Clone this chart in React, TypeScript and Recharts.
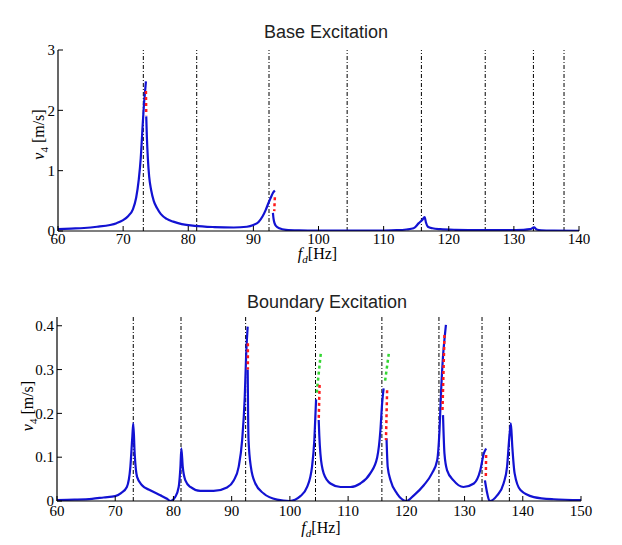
import React from 'react';
import { ComposedChart, Line, XAxis, YAxis, ReferenceLine, Label } from 'recharts';

// Mode frequencies (vertical dash-dot lines) [Hz]
const modeFreqs = [73.1, 81.3, 92.4, 104.4, 115.8, 125.6, 133.0, 137.7];

// Tick labels
const baseTicksX = [60, 70, 80, 90, 100, 110, 120, 130, 140];
const baseTicksY = [0, 1, 2, 3];
const bndTicksX = [60, 70, 80, 90, 100, 110, 120, 130, 140, 150];
const bndTicksY = [0, 0.1, 0.2, 0.3, 0.4];

// ---- Base excitation (top) ----
const baseF1 = [60, 62, 64, 66, 68, 69, 70, 70.8, 71.5, 72.0, 72.4, 72.7, 73.0, 73.2, 73.4, 73.5];
const baseV1 = [0.03, 0.04, 0.05, 0.07, 0.1, 0.13, 0.18, 0.25, 0.36, 0.55, 0.85, 1.2, 1.75, 2.1, 2.35, 2.48];
const baseF2 = [73.55, 73.65, 73.8, 74.0, 74.3, 74.7, 75.2, 75.8, 76.7, 77.7, 79, 81, 84, 87, 89, 90, 90.8, 91.4, 91.9, 92.3, 92.7, 93.0, 93.3];
const baseV2 = [1.9, 1.55, 1.2, 0.9, 0.68, 0.5, 0.38, 0.28, 0.2, 0.155, 0.115, 0.085, 0.065, 0.058, 0.07, 0.1, 0.15, 0.24, 0.35, 0.46, 0.56, 0.63, 0.67];
const baseF3 = [93.0, 93.1, 93.25, 93.5, 94, 95, 97, 100, 105, 110, 112, 113.5, 114.6, 115.4, 115.9, 116.3, 116.5, 116.8, 117.5, 118.7, 121, 125, 129, 131.5, 132.5, 133.1, 133.5, 134.2, 136, 140];
const baseV3 = [0.3, 0.2, 0.13, 0.08, 0.045, 0.02, 0.01, 0.006, 0.005, 0.008, 0.013, 0.025, 0.045, 0.13, 0.18, 0.23, 0.14, 0.07, 0.045, 0.03, 0.02, 0.015, 0.015, 0.02, 0.03, 0.06, 0.025, 0.012, 0.006, 0.003];
// unstable branches (red dotted)
const baseRedF1 = [73.5, 73.55];
const baseRedV1 = [2.32, 1.92];
const baseRedF2 = [93.3, 93.2];
const baseRedV2 = [0.56, 0.33];

// ---- Boundary excitation (bottom) ----
const bndF1 = [60, 63, 66, 68, 70, 71, 72.0, 72.6, 72.94, 73.1, 73.34, 73.75, 74.6, 76.0, 77.75, 78.9, 79.5, 80.3, 80.9, 81.2, 81.36, 81.6, 82.05, 82.9, 84.6, 86.9, 89.2, 90.35, 91.2, 91.8, 92.25, 92.5, 92.75];
const bndV1 = [0.002, 0.003, 0.005, 0.008, 0.011, 0.018, 0.032, 0.078, 0.147, 0.177, 0.108, 0.055, 0.036, 0.0245, 0.013, 0.005, 0.0, 0.009, 0.032, 0.078, 0.12, 0.078, 0.047, 0.032, 0.023, 0.023, 0.031, 0.047, 0.078, 0.139, 0.238, 0.337, 0.398];
const bndF2 = [92.75, 92.82, 92.9, 93.3, 94.07, 95.5, 97.8, 99.96, 101.8, 102.96, 103.8, 104.2, 104.5];
const bndV2 = [0.3, 0.2, 0.139, 0.078, 0.04, 0.017, 0.003, 0.0, 0.011, 0.032, 0.078, 0.139, 0.232];
const bndF3 = [104.95, 105.05, 105.24, 105.8, 106.96, 108.7, 110.4, 112.1, 113.8, 115.0, 115.55, 115.84, 116.1];
const bndV3 = [0.185, 0.15, 0.108, 0.063, 0.04, 0.032, 0.032, 0.04, 0.063, 0.1, 0.162, 0.223, 0.257];
const bndF4 = [116.6, 116.8, 117.3, 118.4, 120.0, 121.3, 123.0, 124.4, 125.3, 125.7, 125.98, 126.3, 126.6, 126.8];
const bndV4 = [0.143, 0.078, 0.047, 0.017, 0.0, 0.013, 0.036, 0.063, 0.093, 0.162, 0.253, 0.33, 0.376, 0.402];
const bndF5 = [126.3, 126.55, 127.0, 128.1, 129.8, 131.6, 132.7, 133.3, 133.7];
const bndV5 = [0.196, 0.108, 0.07, 0.047, 0.032, 0.04, 0.07, 0.108, 0.12];
const bndF6 = [133.5, 133.9, 134.3, 135.6, 136.7, 137.3, 137.7, 137.96, 138.2, 138.6, 139.6, 141.9, 145.3, 150];
const bndV6 = [0.047, 0.017, 0.0, 0.013, 0.04, 0.078, 0.147, 0.177, 0.124, 0.063, 0.025, 0.009, 0.004, 0.002];
// unstable branches (red dotted)
const bndRedF1 = [92.78, 92.78];
const bndRedV1 = [0.36, 0.3];
const bndRedF2 = [105.1, 104.95];
const bndRedV2 = [0.265, 0.185];
const bndRedF3 = [116.7, 116.5];
const bndRedV3 = [0.253, 0.139];
const bndRedF4 = [126.55, 126.2];
const bndRedV4 = [0.379, 0.204];
const bndRedF5 = [133.7, 133.65];
const bndRedV5 = [0.105, 0.052];
// green dotted branches
const bndGreenF1 = [105.3, 104.6];
const bndGreenV1 = [0.336, 0.246];
const bndGreenF2 = [116.98, 116.3];
const bndGreenV2 = [0.336, 0.269];

const zip = (f: number[], v: number[]) => f.map((x, i) => ({ f: x, v: v[i] }));

const SERIF = '"Liberation Serif", "Times New Roman", serif';
const SANS = '"Liberation Sans", Arial, Helvetica, sans-serif';
const BLUE = '#1212d2';
const RED = '#ff1a1a';
const GREEN = '#33d633';

const XTick = (props: any) => (
  <text
    x={props.x}
    y={props.y}
    dy="0.71em"
    textAnchor="middle"
    fontFamily={SERIF}
    fontSize={15}
    fill="#000"
  >
    {props.payload.value}
  </text>
);

const YTick = (props: any) => (
  <text
    x={props.x}
    y={props.y}
    dy="0.35em"
    textAnchor="end"
    fontFamily={SERIF}
    fontSize={15}
    fill="#000"
  >
    {props.payload.value}
  </text>
);

type Pt = { f: number; v: number };

type PanelProps = {
  top: number;
  height: number;
  margin: { top: number; right: number; bottom: number; left: number };
  yAxisWidth: number;
  xAxisHeight: number;
  xDomain: [number, number];
  xTicks: number[];
  yDomain: [number, number];
  yTicks: number[];
  blue: Pt[][];
  red: Pt[][];
  green: Pt[][];
  xTickMargin: number;
  yTickMargin: number;
  xLabelDy: number;
  xLabelDx: number;
  yLabelX: number;
  yLabelDy: number;
};

function Panel(p: PanelProps) {
  return (
    <div style={{ position: 'absolute', left: 0, top: p.top, width: 622, height: p.height }}>
      <ComposedChart width={622} height={p.height} margin={p.margin}>
        <XAxis
          xAxisId="main"
          dataKey="f"
          type="number"
          domain={p.xDomain}
          ticks={p.xTicks}
          interval={0}
          allowDataOverflow
          height={p.xAxisHeight}
          tickSize={-5}
          tickMargin={p.xTickMargin}
          axisLine={{ stroke: '#000', strokeWidth: 1.2 }}
          tickLine={{ stroke: '#000' }}
          tick={<XTick />}
        >
          <Label
            content={(lp: any) => {
              const vb = lp.viewBox || {};
              const cx = vb.x + vb.width / 2 + p.xLabelDx;
              const y = vb.y + p.xLabelDy;
              return (
                <text x={cx} y={y} textAnchor="middle" fontFamily={SERIF} fontSize={16} fill="#000">
                  <tspan fontStyle="italic">f</tspan>
                  <tspan fontStyle="italic" fontSize={11} dy={4}>d</tspan>
                  <tspan dy={-4}>[Hz]</tspan>
                </text>
              );
            }}
          />
        </XAxis>
        <XAxis
          xAxisId="topax"
          orientation="top"
          type="number"
          domain={p.xDomain}
          ticks={p.xTicks}
          interval={0}
          allowDataOverflow
          height={0}
          tickSize={-5}
          tick={false}
          axisLine={{ stroke: '#000', strokeWidth: 1.2 }}
          tickLine={{ stroke: '#000' }}
        />
        <YAxis
          yAxisId="main"
          type="number"
          domain={p.yDomain}
          ticks={p.yTicks}
          interval={0}
          allowDataOverflow
          width={p.yAxisWidth}
          tickSize={-5}
          tickMargin={p.yTickMargin}
          axisLine={{ stroke: '#000', strokeWidth: 1.2 }}
          tickLine={{ stroke: '#000' }}
          tick={<YTick />}
        >
          <Label
            content={(lp: any) => {
              const vb = lp.viewBox || {};
              const cx = vb.x + p.yLabelX;
              const cy = vb.y + vb.height / 2 + p.yLabelDy;
              return (
                <text
                  x={cx}
                  y={cy}
                  textAnchor="middle"
                  transform={`rotate(-90 ${cx} ${cy})`}
                  fontFamily={SERIF}
                  fontSize={16}
                  fill="#000"
                >
                  <tspan fontStyle="italic">v</tspan>
                  <tspan fontSize={11} dy={4}>4</tspan>
                  <tspan dy={-4}> [m/s]</tspan>
                </text>
              );
            }}
          />
        </YAxis>
        <YAxis
          yAxisId="rightax"
          orientation="right"
          type="number"
          domain={p.yDomain}
          ticks={p.yTicks}
          interval={0}
          allowDataOverflow
          width={0}
          tickSize={-5}
          tick={false}
          axisLine={{ stroke: '#000', strokeWidth: 1.2 }}
          tickLine={{ stroke: '#000' }}
        />
        {modeFreqs
          .filter((m) => m >= p.xDomain[0] && m <= p.xDomain[1])
          .map((m, i) => (
            <ReferenceLine
              key={'ref' + i}
              xAxisId="main"
              yAxisId="main"
              x={m}
              stroke="#000"
              strokeWidth={1}
              strokeDasharray="4 2 1 2"
            />
          ))}
        {p.blue.map((d, i) => (
          <Line
            key={'b' + i}
            xAxisId="main"
            yAxisId="main"
            data={d}
            dataKey="v"
            type="monotone"
            stroke={BLUE}
            strokeWidth={2.2}
            dot={false}
            activeDot={false}
            isAnimationActive={false}
          />
        ))}
        {p.green.map((d, i) => (
          <Line
            key={'g' + i}
            xAxisId="main"
            yAxisId="main"
            data={d}
            dataKey="v"
            type="linear"
            stroke={GREEN}
            strokeWidth={2.5}
            strokeDasharray="3 3"
            dot={false}
            activeDot={false}
            isAnimationActive={false}
          />
        ))}
        {p.red.map((d, i) => (
          <Line
            key={'r' + i}
            xAxisId="main"
            yAxisId="main"
            data={d}
            dataKey="v"
            type="linear"
            stroke={RED}
            strokeWidth={2.5}
            strokeDasharray="3 3"
            dot={false}
            activeDot={false}
            isAnimationActive={false}
          />
        ))}
      </ComposedChart>
    </div>
  );
}

export default function App() {
  const baseBlue = [zip(baseF1, baseV1), zip(baseF2, baseV2), zip(baseF3, baseV3)];
  const baseRed = [zip(baseRedF1, baseRedV1), zip(baseRedF2, baseRedV2)];
  const bndBlue = [
    zip(bndF1, bndV1),
    zip(bndF2, bndV2),
    zip(bndF3, bndV3),
    zip(bndF4, bndV4),
    zip(bndF5, bndV5),
    zip(bndF6, bndV6),
  ];
  const bndRed = [
    zip(bndRedF1, bndRedV1),
    zip(bndRedF2, bndRedV2),
    zip(bndRedF3, bndRedV3),
    zip(bndRedF4, bndRedV4),
    zip(bndRedF5, bndRedV5),
  ];
  const bndGreen = [zip(bndGreenF1, bndGreenV1), zip(bndGreenF2, bndGreenV2)];

  return (
    <div style={{ position: 'absolute', left: 0, top: 0, width: 622, height: 545, background: '#fff' }}>
      <Panel
        top={0}
        height={270}
        margin={{ top: 50, right: 43, bottom: 0, left: 0 }}
        yAxisWidth={58}
        xAxisHeight={39}
        xDomain={[60, 140]}
        xTicks={baseTicksX}
        yDomain={[0, 3]}
        yTicks={baseTicksY}
        blue={baseBlue}
        red={baseRed}
        green={[]}
        xTickMargin={7}
        yTickMargin={8}
        xLabelDy={28}
        xLabelDx={-1}
        yLabelX={44}
        yLabelDy={-6}
      />
      <Panel
        top={270}
        height={275}
        margin={{ top: 47, right: 41, bottom: 0, left: 0 }}
        yAxisWidth={57}
        xAxisHeight={44}
        xDomain={[60, 150]}
        xTicks={bndTicksX}
        yDomain={[0, 0.42]}
        yTicks={bndTicksY}
        blue={bndBlue}
        red={bndRed}
        green={bndGreen}
        xTickMargin={9}
        yTickMargin={8}
        xLabelDy={32}
        xLabelDx={2}
        yLabelX={33}
        yLabelDy={-3}
      />
      <svg
        width={622}
        height={545}
        style={{ position: 'absolute', left: 0, top: 0, pointerEvents: 'none' }}
      >
        <text x={326} y={38} textAnchor="middle" fontFamily={SANS} fontSize={18} fill="#222">
          Base Excitation
        </text>
        <text x={327} y={308} textAnchor="middle" fontFamily={SANS} fontSize={18} fill="#222">
          Boundary Excitation
        </text>
      </svg>
    </div>
  );
}
